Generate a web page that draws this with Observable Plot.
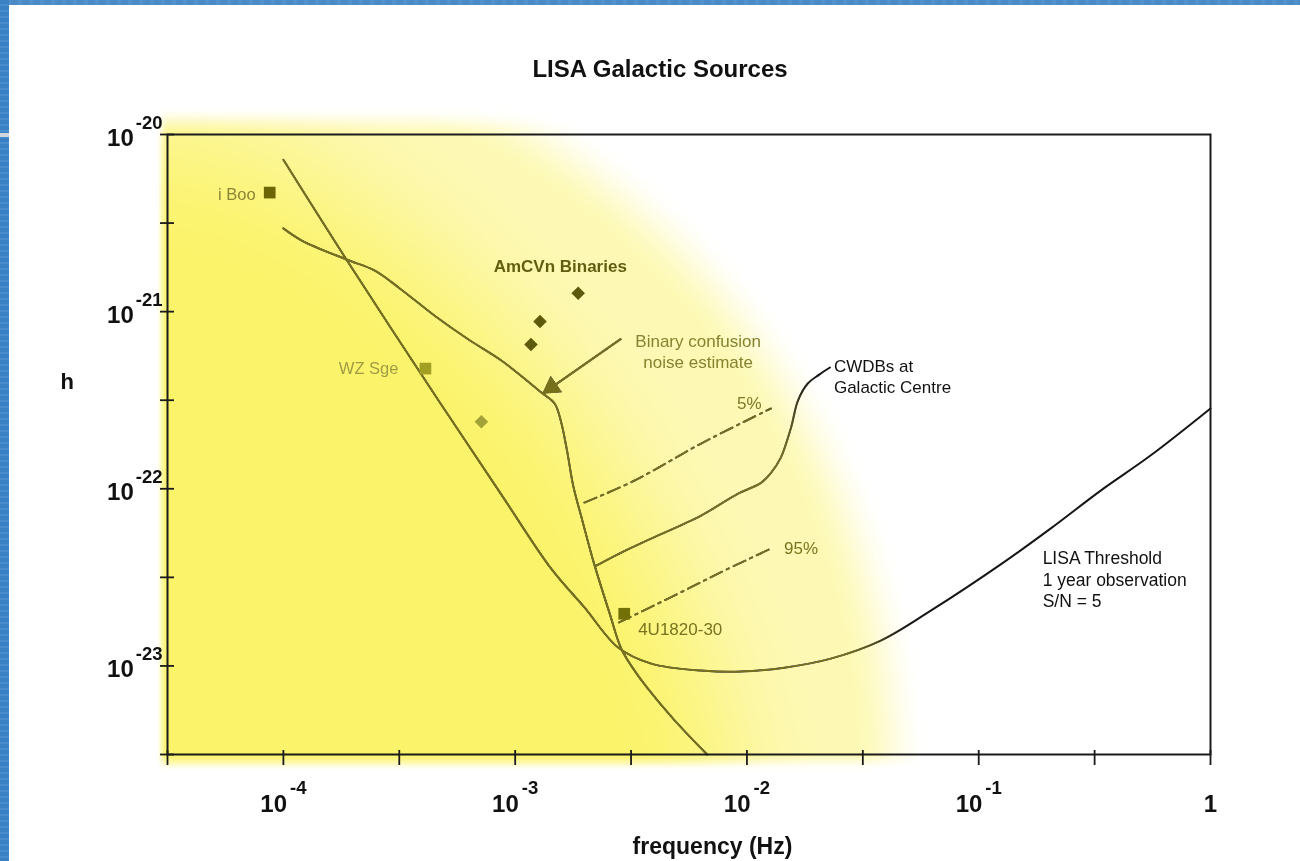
<!DOCTYPE html>
<html>
<head>
<meta charset="utf-8">
<script src="https://cdn.jsdelivr.net/npm/d3@7"></script>
<script src="https://cdn.jsdelivr.net/npm/@observablehq/plot@0.6"></script>
<style>
  html, body { margin: 0; padding: 0; background: #fff; }
  #page { position: relative; width: 1300px; height: 861px; overflow: hidden; background: #fff;
          font-family: "Liberation Sans", Arial, Helvetica, sans-serif; }
  #title { position: absolute; left: 0; top: 55px; width: 1320px; text-align: center;
           font-size: 24px; font-weight: bold; color: #111; line-height: 28px; }
  #chart { position: absolute; left: 0; top: 95px; }
  #band-top { position: absolute; left: 0; top: 0; width: 1300px; height: 5px;
              background: repeating-linear-gradient(90deg, #4a8bc7 0 7px, #5192cc 7px 11px); }
  #band-left { position: absolute; left: 0; top: 0; width: 9px; height: 861px;
               background: repeating-linear-gradient(180deg, #3a80c4 0 4px, #4a8dcc 4px 6px); }
  #band-rule { position: absolute; left: 0; top: 133px; width: 9px; height: 4px; background: #cfd5dc; }
</style>
</head>
<body>
<div id="page">
  <div id="title">LISA Galactic Sources</div>
  <div id="chart"></div>
  <div id="band-top"></div>
  <div id="band-left"></div>
  <div id="band-rule"></div>
</div>
<script>
// ---- Curves: frequency (Hz) and strain amplitude h ----
const thresholdF = [1.0e-4, 1.87e-4, 4.67e-4, 8.72e-4, 1.43e-3, 1.99e-3, 2.78e-3, 3.86e-3, 6.34e-3, 9.43e-3,
                    1.45e-2, 2.30e-2, 3.78e-2, 6.21e-2, 0.124, 0.204, 0.336, 0.551, 1.0];
const thresholdH = [7.2e-21, 1.97e-21, 3.15e-22, 9.27e-23, 3.54e-23, 2.14e-23, 1.27e-23, 1.03e-23, 9.41e-24, 9.29e-24,
                    9.78e-24, 1.10e-23, 1.39e-23, 2.05e-23, 3.73e-23, 5.96e-23, 9.77e-23, 1.54e-22, 2.84e-22];

const confusionF = [1.0e-4, 1.20e-4, 1.87e-4, 2.47e-4, 3.23e-4, 4.48e-4, 6.29e-4, 8.72e-4, 1.30e-3, 1.48e-3, 1.58e-3,
                    1.68e-3, 1.78e-3, 1.95e-3, 2.19e-3, 2.55e-3, 2.87e-3, 3.23e-3, 3.68e-3, 4.80e-3, 6.73e-3];
const confusionH = [2.95e-21, 2.52e-21, 1.97e-21, 1.71e-21, 1.33e-21, 9.51e-22, 6.96e-22, 5.30e-22, 3.49e-22, 3.03e-22, 2.37e-22,
                    1.60e-22, 1.04e-22, 6.61e-23, 3.78e-23, 2.00e-23, 1.25e-23, 9.66e-24, 7.64e-24, 5.04e-24, 3.16e-24];

const centreF = [2.24e-3, 2.87e-3, 3.86e-3, 6.34e-3, 9.16e-3, 1.15e-2, 1.27e-2, 1.40e-2, 1.55e-2, 1.66e-2, 1.83e-2, 2.05e-2, 2.28e-2];
const centreH = [3.68e-23, 4.36e-23, 5.23e-23, 7.06e-23, 9.39e-23, 1.08e-22, 1.23e-22, 1.50e-22, 2.22e-22, 3.15e-22, 3.93e-22, 4.41e-22, 4.84e-22];

const pct5F = [1.99e-3, 3.26e-3, 6.34e-3, 1.27e-2];
const pct5H = [8.36e-23, 1.11e-22, 1.80e-22, 2.84e-22];
const pct95F = [2.81e-3, 5.36e-3, 7.51e-3, 1.27e-2];
const pct95H = [1.76e-23, 2.66e-23, 3.32e-23, 4.60e-23];

// ---- Individual sources ----
const sourceName = ["i Boo", "WZ Sge", "4U1820-30"];
const sourceF = [8.73e-5, 4.10e-4, 2.955e-3];
const sourceH = [4.70e-21, 4.77e-22, 1.97e-23];
const amcvnF = [1.87e-3, 1.28e-3, 1.17e-3];
const amcvnH = [1.27e-21, 8.79e-22, 6.52e-22];
const otherF = [7.15e-4];
const otherH = [2.39e-22];

// ---- Annotations ----
const noteText = ["AmCVn Binaries", "Binary confusion\nnoise estimate", "5%", "95%",
                  "CWDBs at\nGalactic Centre", "LISA Threshold\n1 year observation\nS/N = 5"];
const noteF = [1.565e-3, 6.16e-3, 1.023e-2, 1.712e-2, 2.373e-2, 0.1887];
const noteH = [1.82e-21, 6.03e-22, 3.07e-22, 4.66e-23, 4.36e-22, 3.11e-23];
const arrowFrom = [2.87e-3, 7.05e-22];
const arrowTo = [1.319e-3, 3.46e-22];

// ---- Axes ----
const xTickValues = [10 ** -4.5, 1e-4, 10 ** -3.5, 1e-3, 10 ** -2.5, 1e-2, 10 ** -1.5, 1e-1, 10 ** -0.5, 1];
const xLabelValues = [1e-4, 1e-3, 1e-2, 1e-1, 1];
const yTickValues = [1e-20, 10 ** -20.5, 1e-21, 10 ** -21.5, 1e-22, 10 ** -22.5, 1e-23, 10 ** -23.5];
const yLabelValues = [1e-20, 1e-21, 1e-22, 1e-23];
const xDomain = [10 ** -4.5, 1];
const yDomain = [10 ** -23.5, 1e-20];

const rows = (F, H) => F.map((f, i) => ({f, h: H[i]}));
const threshold = rows(thresholdF, thresholdH);
const confusion = rows(confusionF, confusionH);
const centre = rows(centreF, centreH);
const pct5 = rows(pct5F, pct5H);
const pct95 = rows(pct95F, pct95H);
const sources = sourceName.map((name, i) => ({name, f: sourceF[i], h: sourceH[i]}));
const amcvn = rows(amcvnF, amcvnH);
const other = rows(otherF, otherH);
const notes = noteText.map((text, i) => ({text, f: noteF[i], h: noteH[i]}));

// ---- Layout ----
const W = 1300, H = 766;
const margin = {top: 39, right: 90, bottom: 107, left: 167};
const frameW = W - margin.left - margin.right;
const frameH = H - margin.top - margin.bottom;
const xs = d3.scaleLog(xDomain, [margin.left, W - margin.right]);
const ys = d3.scaleLog(yDomain, [H - margin.bottom, margin.top]);

// Yellow glow behind the low-frequency part of the plot (screen-space shape)
const smooth = (a, b, t) => { const s = Math.min(1, Math.max(0, (t - a) / (b - a))); return s * s * (3 - 2 * s); };
function glowOuter(f, h) {
  const px = xs(f), py = ys(h);
  const r = Math.hypot(px - 150, py - 675);
  return (1 - smooth(702, 778, r)) * smooth(156, 168, px) * smooth(11, 43, py) * (1 - smooth(657, 675, py));
}
function glowCore(f, h) {
  const px = xs(f), py = ys(h);
  const dx = Math.max(0, px - 168) / 560, dy = Math.max(0, 705 - py) / 665;
  const d = Math.pow(dx ** 1.6 + dy ** 1.6, 1 / 1.6);
  return 1 - smooth(0.82, 1.18, d);
}
const glowBounds = {x1: xs.invert(140), x2: xs.invert(940), y1: ys.invert(5), y2: ys.invert(685), pixelSize: 2};

// Arrow head geometry
const ang = Math.atan2(ys(arrowTo[1]) - ys(arrowFrom[1]), xs(arrowTo[0]) - xs(arrowFrom[0]));
const headBack = 10.5;

const ink = "#161616";
const note = (i, o) => Plot.text([notes[i]], {x: "f", y: "h", text: "text", fontSize: 17, lineHeight: 1.22, ...o});

const svg = Plot.plot({
  width: W, height: H,
  marginTop: margin.top, marginRight: margin.right, marginBottom: margin.bottom, marginLeft: margin.left,
  x: {type: "log", domain: xDomain},
  y: {type: "log", domain: yDomain},
  style: {fontFamily: "'Liberation Sans', Arial, Helvetica, sans-serif", fontSize: "17px", overflow: "visible"},
  marks: [
    // glow background
    Plot.raster({...glowBounds, fill: "#fdf9b4", fillOpacity: (f, h) => glowOuter(f, h)}),
    Plot.raster({...glowBounds, fill: "#fbf36a", fillOpacity: (f, h) => glowOuter(f, h) * glowCore(f, h)}),

    // curves
    Plot.line(confusion, {x: "f", y: "h", curve: "catmull-rom", stroke: ink, strokeWidth: 2}),
    Plot.line(threshold, {x: "f", y: "h", curve: "catmull-rom", stroke: ink, strokeWidth: 2}),
    Plot.line(centre, {x: "f", y: "h", curve: "catmull-rom", stroke: ink, strokeWidth: 2}),
    Plot.line(pct5, {x: "f", y: "h", curve: "catmull-rom", stroke: ink, strokeWidth: 2, strokeDasharray: "13,5,2.5,5"}),
    Plot.line(pct95, {x: "f", y: "h", curve: "catmull-rom", stroke: ink, strokeWidth: 2, strokeDasharray: "13,5,2.5,5"}),
    Plot.link([{f1: arrowFrom[0], h1: arrowFrom[1], f2: arrowTo[0], h2: arrowTo[1]}],
      {x1: "f1", y1: "h1", x2: "f2", y2: "h2", stroke: ink, strokeWidth: 2.2}),
    Plot.dot([{f: arrowTo[0], h: arrowTo[1]}], {x: "f", y: "h", symbol: "triangle", r: 7.4, fill: ink,
      rotate: ang * 180 / Math.PI + 90, dx: -Math.cos(ang) * headBack, dy: -Math.sin(ang) * headBack}),

    // the glow tints dark ink olive where it lies on top
    Plot.raster({...glowBounds, fill: "#76701a", fillOpacity: (f, h) => glowOuter(f, h), mixBlendMode: "lighten"}),

    // sources
    Plot.dot(sources, {x: "f", y: "h", symbol: "square", r: 6.6,
      fill: d => ({"i Boo": "#6c6606", "WZ Sge": "#a29f22", "4U1820-30": "#747008"})[d.name]}),
    Plot.dot(amcvn, {x: "f", y: "h", symbol: "square", r: 5.4, rotate: 45, fill: "#5e5a0c"}),
    Plot.dot(other, {x: "f", y: "h", symbol: "square", r: 5.4, rotate: 45, fill: "#a3a238"}),
    Plot.text([sources[0]], {x: "f", y: "h", text: "name", textAnchor: "end", dx: -14, dy: 2, fontSize: 16.5, fill: "#8a8536"}),
    Plot.text([sources[1]], {x: "f", y: "h", text: "name", textAnchor: "end", dx: -27, dy: 0, fontSize: 16.5, fill: "#a19d45"}),
    Plot.text([sources[2]], {x: "f", y: "h", text: "name", dx: 56, dy: 16, fontSize: 17, fill: "#77731f"}),

    // annotations
    note(0, {fontWeight: "bold", fill: "#625e10"}),
    note(1, {fill: "#86822f"}),
    note(2, {fill: "#7c7827"}),
    note(3, {fill: "#78741f"}),
    note(4, {textAnchor: "start", fill: "#111", lineHeight: 1.25}),
    note(5, {textAnchor: "start", fill: "#111", fontSize: 17.5, lineHeight: 1.23}),

    // frame, ticks and tick labels
    Plot.frame({stroke: "#1b1b1b", strokeWidth: 2}),
    Plot.tickX(xTickValues, {x: d => d, stroke: "#1b1b1b", strokeWidth: 1.8, insetTop: frameH - 4, insetBottom: -11}),
    Plot.tickY(yTickValues, {y: d => d, stroke: "#1b1b1b", strokeWidth: 1.8, insetLeft: -7, insetRight: frameW - 7}),
    Plot.axisX(xLabelValues, {tickSize: 0, tickPadding: 0, label: null, fontSize: 24, fontWeight: "bold", fill: "#111",
      tickFormat: d => { const e = Math.round(Math.log10(d)); return e === 0 ? "1" : `10^${e}`; }}),
    Plot.axisY(yLabelValues, {tickSize: 0, tickPadding: 5, label: null, fontSize: 24, fontWeight: "bold", fill: "#111",
      tickFormat: d => `10^${Math.round(Math.log10(d))}`}),
    Plot.text(["h"], {y: [4.0e-22], frameAnchor: "left", dx: -107, fontSize: 22, fontWeight: "bold", fill: "#111"}),
    Plot.text(["frequency (Hz)"], {x: [7.1e-3], frameAnchor: "bottom", lineAnchor: "bottom", dy: 99,
      fontSize: 23, fontWeight: "bold", fill: "#111"})
  ]
});

// Write powers of ten as a base with a raised exponent
function raiseExponents(root) {
  for (const g of root.querySelectorAll('g[aria-label="x-axis tick label"], g[aria-label="y-axis tick label"]')) {
    const isX = g.getAttribute("aria-label").startsWith("x");
    for (const t of g.querySelectorAll("text")) {
      const [base, exp] = t.textContent.split("^");
      t.removeAttribute("dy");
      t.setAttribute("y", isX ? 57 : 11.5);
      t.textContent = base;
      if (exp !== undefined) {
        const sup = document.createElementNS("http://www.w3.org/2000/svg", "tspan");
        sup.setAttribute("dx", isX ? 3 : 2);
        sup.setAttribute("dy", isX ? -18 : -17);
        sup.setAttribute("font-size", 18.5);
        sup.textContent = exp;
        t.appendChild(sup);
      }
    }
  }
}
raiseExponents(svg);
document.getElementById("chart").appendChild(svg);
</script>
</body>
</html>
